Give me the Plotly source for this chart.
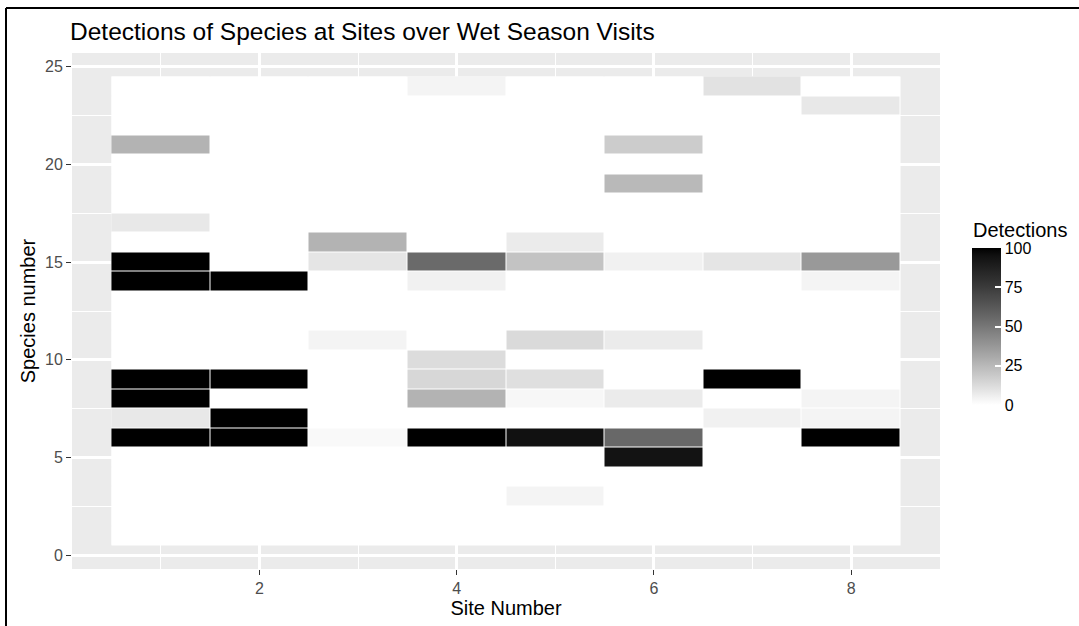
import plotly.graph_objects as go

# ---- data ----
sites = [1, 2, 3, 4, 5, 6, 7, 8]
species = list(range(1, 25))

# non-zero detections in long form: site, species, detections
det_site = [1, 1, 1, 1, 1, 1, 1, 1,
            2, 2, 2, 2,
            3, 3, 3, 3,
            4, 4, 4, 4, 4, 4, 4,
            5, 5, 5, 5, 5, 5, 5,
            6, 6, 6, 6, 6, 6, 6,
            7, 7, 7, 7,
            8, 8, 8, 8, 8, 8]
det_species = [21, 17, 15, 14, 9, 8, 7, 6,
               14, 9, 7, 6,
               16, 15, 11, 6,
               24, 15, 14, 10, 9, 8, 6,
               16, 15, 11, 9, 8, 6, 3,
               21, 19, 15, 11, 8, 6, 5,
               24, 15, 9, 7,
               23, 15, 14, 8, 7, 6]
det_values = [27, 8, 100, 100, 100, 100, 8, 100,
              100, 100, 100, 100,
              27, 9, 4, 2,
              4, 55, 5, 12, 14, 27, 100,
              7, 21, 13, 11, 3, 95, 4,
              18, 25, 5, 7, 7, 56, 94,
              10, 9, 100, 5,
              8, 37, 4, 4, 4, 100]

x_ticks = [2, 4, 6, 8]
y_ticks = [0, 5, 10, 15, 20, 25]
cbar_ticks = [0, 25, 50, 75, 100]

# full grid (every tile present, zero elsewhere)
z = [[0 for _ in sites] for _ in species]
for s, sp, v in zip(det_site, det_species, det_values):
    z[species.index(sp)][sites.index(s)] = v


# ggplot-like white->black gradient (interpolated in Lab lightness)
def lab_grey(t):
    L = 100.0 * (1 - t)
    Y = ((L + 16) / 116) ** 3 if L > 8 else L / 903.3
    c = 1.055 * Y ** (1 / 2.4) - 0.055 if Y > 0.0031308 else 12.92 * Y
    g = int(round(max(0, min(1, c)) * 255))
    return f"rgb({g},{g},{g})"


colorscale = [[i / 20, lab_grey(i / 20)] for i in range(21)]

W, H = 1079, 626
L_, R_, T_, B_ = 72, 139, 53, 57
pw, ph = W - L_ - R_, H - T_ - B_


def px_x(p):
    return (p - L_) / pw


def px_y(p):
    return (H - B_ - p) / ph


FONT = "Arial, Liberation Sans, sans-serif"

fig = go.Figure()
fig.add_trace(go.Heatmap(
    x=sites, y=species, z=z,
    zmin=0, zmax=100,
    colorscale=colorscale,
    xgap=1, ygap=1,
    colorbar=dict(
        tickvals=cbar_ticks,
        tickprefix=" ",
        ticks="inside", ticklen=6, tickcolor="white", tickwidth=1.5,
        tickfont=dict(family=FONT, size=16, color="black"),
        thickness=29, len=157, lenmode="pixels",
        x=px_x(972), xanchor="left", xpad=0,
        y=px_y(405), yanchor="bottom", ypad=0,
        outlinewidth=0,
    ),
))

fig.add_annotation(text="Detections", xref="paper", yref="paper",
                   x=px_x(971), y=px_y(230), xanchor="left", yanchor="middle",
                   showarrow=False,
                   font=dict(family=FONT, size=20, color="black"))

fig.add_shape(type="rect", x0=0.5, x1=8.5, y0=0.5, y1=24.5,
              xref="x", yref="y", fillcolor="white", line_width=0,
              layer="between")

# frame around the image (top and left)
fig.add_shape(type="line", xref="paper", yref="paper",
              x0=px_x(6), x1=px_x(1085), y0=px_y(8), y1=px_y(8),
              line=dict(color="black", width=2))
fig.add_shape(type="line", xref="paper", yref="paper",
              x0=px_x(6), x1=px_x(6), y0=px_y(8), y1=px_y(640),
              line=dict(color="black", width=2))

fig.update_layout(
    width=W, height=H,
    margin=dict(l=L_, r=R_, t=T_, b=B_),
    paper_bgcolor="white",
    plot_bgcolor="#EBEBEB",
    font=dict(family=FONT, color="black"),
    title=dict(text="Detections of Species at Sites over Wet Season Visits",
               x=70 / W, xref="container", xanchor="left",
               y=1 - 31 / H, yref="container", yanchor="middle",
               font=dict(family=FONT, size=24.5, color="black")),
    xaxis=dict(
        range=[0.1, 8.9], tickvals=x_ticks,
        showgrid=True, gridcolor="white", gridwidth=2.5,
        minor=dict(dtick=1, tick0=1, showgrid=True, gridcolor="white",
                   gridwidth=1.2, ticks=""),
        zeroline=False, showline=False,
        ticks="outside", ticklen=5, tickcolor="#333333", tickwidth=1,
        tickfont=dict(family=FONT, size=16, color="#4D4D4D"),
        title=dict(text="Site Number", standoff=4,
                   font=dict(family=FONT, size=20, color="black")),
    ),
    yaxis=dict(
        range=[-0.7, 25.7], tickvals=y_ticks,
        showgrid=True, gridcolor="white", gridwidth=2.5,
        minor=dict(dtick=2.5, tick0=0, showgrid=True, gridcolor="white",
                   gridwidth=1.2, ticks=""),
        zeroline=False, showline=False,
        ticks="outside", ticklen=5, tickcolor="#333333", tickwidth=1,
        tickfont=dict(family=FONT, size=16, color="#4D4D4D"),
        title=dict(text="Species number", standoff=4,
                   font=dict(family=FONT, size=20, color="black")),
    ),
)

fig.write_html("out.html")
